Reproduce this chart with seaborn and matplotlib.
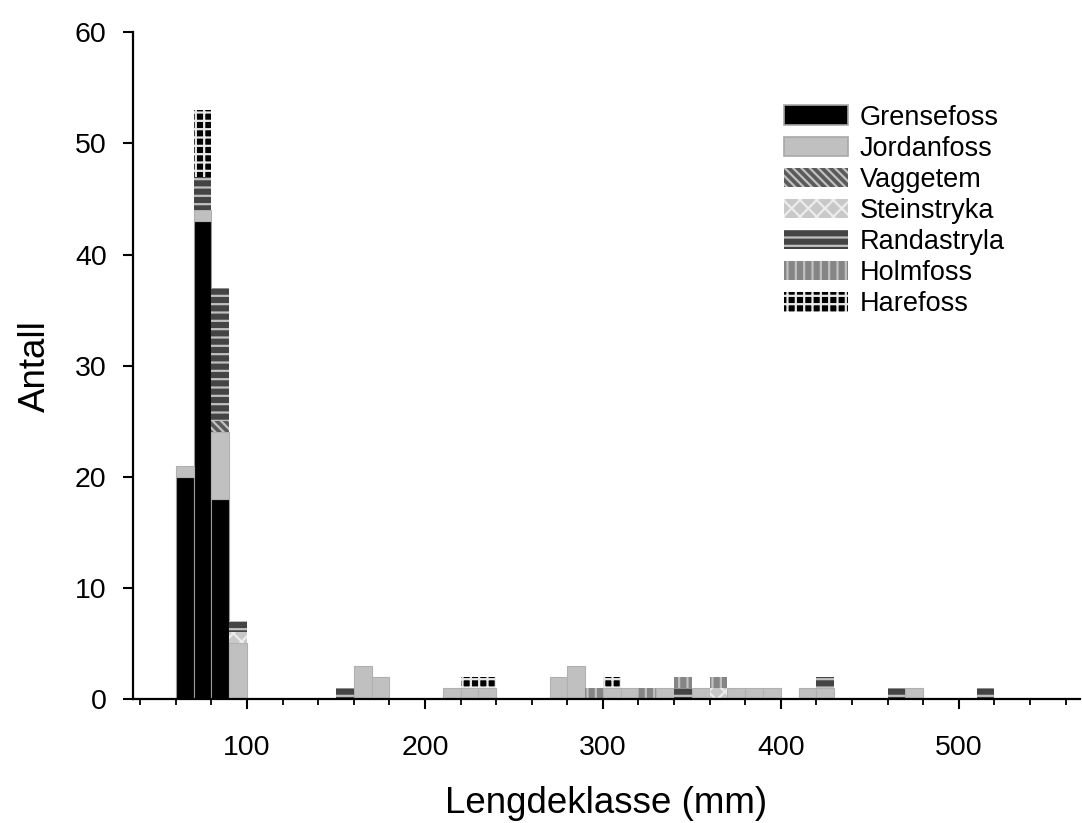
import numpy as np
import pandas as pd
import matplotlib
matplotlib.use("Agg")
import matplotlib.pyplot as plt
import matplotlib.colors as mcolors
from matplotlib.ticker import MultipleLocator, FixedLocator
from matplotlib.patches import Patch
import seaborn as sns

# ---------------- data ----------------
sites = ["Grensefoss", "Jordanfoss", "Vaggetem", "Steinstryka",
         "Randastryla", "Holmfoss", "Harefoss"]
bin_starts = [60, 70, 80, 90, 150, 160, 170, 210, 220, 230, 270, 280, 290,
              300, 310, 320, 330, 340, 350, 360, 370, 380, 390, 410, 420,
              460, 470, 510]
grensefoss = [20, 43, 18, 0, 0, 0, 0, 0, 0, 0, 0, 0, 0,
              0, 0, 0, 0, 0, 0, 0, 0, 0, 0, 0, 0, 0, 0, 0]
jordanfoss = [1, 1, 6, 5, 0, 3, 2, 1, 1, 1, 2, 3, 0,
              1, 1, 0, 1, 0, 1, 0, 1, 1, 1, 1, 1, 0, 1, 0]
vaggetem = [0, 0, 1, 0, 0, 0, 0, 0, 0, 0, 0, 0, 0,
            0, 0, 0, 0, 0, 0, 0, 0, 0, 0, 0, 0, 0, 0, 0]
steinstryka = [0, 0, 0, 1, 0, 0, 0, 0, 0, 0, 0, 0, 0,
               0, 0, 0, 0, 0, 0, 1, 0, 0, 0, 0, 0, 0, 0, 0]
randastryla = [0, 3, 12, 1, 1, 0, 0, 0, 0, 0, 0, 0, 0,
               0, 0, 0, 0, 1, 0, 0, 0, 0, 0, 0, 1, 1, 0, 1]
holmfoss = [0, 0, 0, 0, 0, 0, 0, 0, 0, 0, 0, 0, 1,
            0, 0, 1, 0, 1, 0, 1, 0, 0, 0, 0, 0, 0, 0, 0]
harefoss = [0, 6, 0, 0, 0, 0, 0, 0, 1, 1, 0, 0, 0,
            1, 0, 0, 0, 0, 0, 0, 0, 0, 0, 0, 0, 0, 0, 0]
x_ticks = [100, 200, 300, 400, 500]
y_ticks = [0, 10, 20, 30, 40, 50, 60]
x_label = "Lengdeklasse (mm)"
y_label = "Antall"

series = dict(zip(sites, [grensefoss, jordanfoss, vaggetem, steinstryka,
                          randastryla, holmfoss, harefoss]))
rows = []
for s in sites:
    for b, c in zip(bin_starts, series[s]):
        if c > 0:
            rows.append({"length": float(b + 5), "count": float(c), "site": s})
df = pd.DataFrame(rows)

# ---------------- styles ----------------
# (face, hatch, hatchcolor)
styles = {
    "Grensefoss": ("#000000", None, "#9a9a9a"),
    "Jordanfoss": ("#c0c0c0", None, "#b0b0b0"),
    "Vaggetem": ("#5a5a5a", "\\\\\\\\", "#c0c0c0"),
    "Steinstryka": ("#c8c8c8", "xx", "#ececec"),
    "Randastryla": ("#444444", "--", "#c0c0c0"),
    "Holmfoss": ("#858585", "||", "#c0c0c0"),
    "Harefoss": ("#000000", "++", "#e8e8e8"),
}
key_colors = ["#e41a1c", "#377eb8", "#4daf4a", "#984ea3",
              "#ff7f00", "#a65628", "#f781bf"]
palette = dict(zip(sites, key_colors))
color_to_site = {k: s for s, k in palette.items()}

sns.set_style("ticks")
plt.rcParams["font.family"] = ["Liberation Sans", "DejaVu Sans"]
plt.rcParams["hatch.linewidth"] = 1.6
for k in ["text.color", "axes.labelcolor", "xtick.color", "ytick.color",
          "axes.edgecolor"]:
    plt.rcParams[k] = "black"

fig = plt.figure(figsize=(10.82, 8.23), dpi=100)
ax = fig.add_axes([0.123, 0.1507, 0.875, 0.81])

sns.histplot(data=df, x="length", weights="count", hue="site",
             hue_order=sites[::-1], multiple="stack",
             binwidth=10, binrange=(60, 520), palette=palette,
             legend=False, ax=ax, shrink=1, element="bars")

has_hc = hasattr(matplotlib.patches.Patch, "set_hatchcolor")
for p in list(ax.patches):
    h = p.get_height()
    if h <= 0:
        p.set_visible(False)
        continue
    key = mcolors.to_hex(p.get_facecolor()[:3])
    s = color_to_site.get(key)
    if s is None:
        continue
    face, hatch, hc = styles[s]
    p.set_alpha(1)
    p.set_facecolor(face)
    if hatch:
        p.set_hatch(hatch)
        if has_hc:
            p.set_edgecolor("#a8a8a8")
            p.set_hatchcolor(hc)
            p.set_linewidth(0.8)
        else:
            p.set_edgecolor(hc)
            p.set_linewidth(0)
    else:
        p.set_edgecolor(hc)
        p.set_linewidth(0.8)

# legend
handles = []
for s in sites:
    face, hatch, hc = styles[s]
    if hatch:
        hp = Patch(facecolor=face, edgecolor=hc, hatch=hatch, linewidth=0, label=s)
    else:
        hp = Patch(facecolor=face, edgecolor="#a8a8a8", linewidth=1.2, label=s)
    handles.append(hp)
leg = ax.legend(handles=handles, loc="upper left", bbox_to_anchor=(0.676, 0.908),
                frameon=False, fontsize=19.5, handlelength=2.35, handleheight=0.72,
                handletextpad=0.45, labelspacing=0.19, borderaxespad=0)

ax.set_xlim(36, 568)
ax.set_ylim(0, 60)
ax.xaxis.set_major_locator(FixedLocator(x_ticks))
ax.xaxis.set_minor_locator(MultipleLocator(20))
ax.set_yticks(y_ticks)
ax.set_xticklabels([str(v) for v in x_ticks])
ax.spines["top"].set_visible(False)
ax.spines["right"].set_visible(False)
for sp in ["left", "bottom"]:
    ax.spines[sp].set_linewidth(1.6)
    ax.spines[sp].set_color("black")
ax.tick_params(axis="both", which="major", direction="out", length=7,
               width=1.5, color="black", labelsize=20.5, pad=12)
ax.tick_params(axis="x", which="major", pad=19)
ax.tick_params(axis="x", which="minor", direction="out", length=4,
               width=1.3, color="black")
ax.set_xlabel(x_label, fontsize=26.5, labelpad=18)
ax.set_ylabel(y_label, fontsize=26.5, labelpad=16)

fig.savefig("out.png", dpi=100)
